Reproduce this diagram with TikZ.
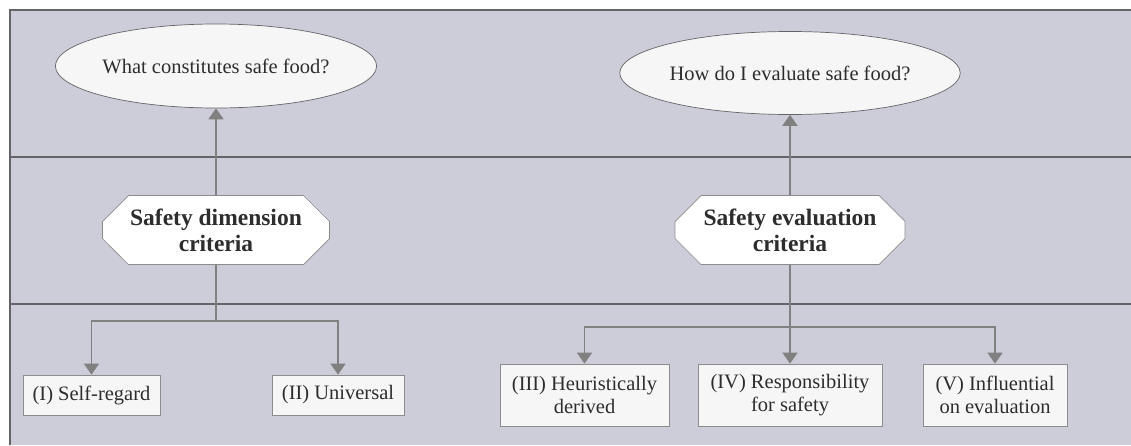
\documentclass[tikz,border=0pt]{standalone}
\usepackage{fontspec}
\setmainfont{Liberation Serif}
\usetikzlibrary{shapes.geometric,shapes.misc,arrows.meta}
\definecolor{bandbg}{RGB}{205,205,218}
\definecolor{bandline}{RGB}{100,100,104}
\definecolor{arrowgray}{RGB}{128,128,128}
\definecolor{boxfill}{RGB}{246,246,246}
\definecolor{boxline}{RGB}{140,140,140}
\definecolor{txt}{RGB}{45,45,45}
\tikzset{
  question/.style={ellipse, draw=bandline, line width=0.7pt, fill=boxfill, inner sep=0pt,
    text=txt, font=\fontsize{20.5}{23}\selectfont},
  criterion/.style={chamfered rectangle, chamfered rectangle xsep=13pt, chamfered rectangle ysep=13pt,
    draw=boxline, line width=0.7pt, fill=white, inner sep=0pt, align=center,
    text=txt, font=\fontsize{23.5}{26}\selectfont\bfseries},
  category/.style={rectangle, draw=boxline, line width=0.8pt, fill=boxfill, inner sep=0pt,
    align=center, text=txt, font=\fontsize{20.5}{23}\selectfont},
  link/.style={draw=arrowgray, line width=1.8pt},
  arr/.style={link, -{Triangle[width=15pt,length=11pt]}},
  band/.style={draw=bandline, line width=1.2pt}
}
\begin{document}
\begin{tikzpicture}[x=1pt,y=-1pt]
\useasboundingbox (0,0) rectangle (1131,445);
% background bands
\fill[bandbg] (10,10) rectangle (1131,445);
\draw[band] (10,445) -- (10,10) -- (1131,10);
\draw[band] (10,157) -- (1131,157);
\draw[band] (10,304) -- (1131,304);

% questions
\node[question, minimum width=268pt, minimum height=84pt] (q1) at (216,66) {What constitutes safe food?};
\node[question, minimum width=280pt, minimum height=83pt] (q2) at (790,73) {How do I evaluate safe food?};

% criteria
\node[criterion, minimum width=227pt, minimum height=69pt] (c1) at (216,230) {Safety dimension\\criteria};
\node[criterion, minimum width=230pt, minimum height=69pt] (c2) at (790,230) {Safety evaluation\\criteria};

% categories
\node[category, minimum width=137pt, minimum height=40pt] (b1) at (91.5,395) {(I) Self-regard};
\node[category, minimum width=132pt, minimum height=40pt] (b2) at (338,395) {(II) Universal};
\node[category, minimum width=169pt, minimum height=62pt] (b3) at (584.5,395) {(III) Heuristically\\derived};
\node[category, minimum width=184pt, minimum height=62pt] (b4) at (790,395) {(IV) Responsibility\\for safety};
\node[category, minimum width=144pt, minimum height=62pt] (b5) at (995,395) {(V) Influential\\on evaluation};

% junctions
\coordinate (j1) at (216,321);
\coordinate (j2) at (790,327);

% connectors
\draw[arr] (c1.north) -- (q1.south);
\draw[arr] (c2.north) -- (q2.south);
\draw[link] (c1.south) -- (j1);
\draw[arr] (j1) -| (b1.north);
\draw[arr] (j1) -| (b2.north);
\draw[arr] (c2.south) -- (b4.north);
\draw[arr] (j2) -| (b3.north);
\draw[arr] (j2) -| (b5.north);
\end{tikzpicture}
\end{document}
